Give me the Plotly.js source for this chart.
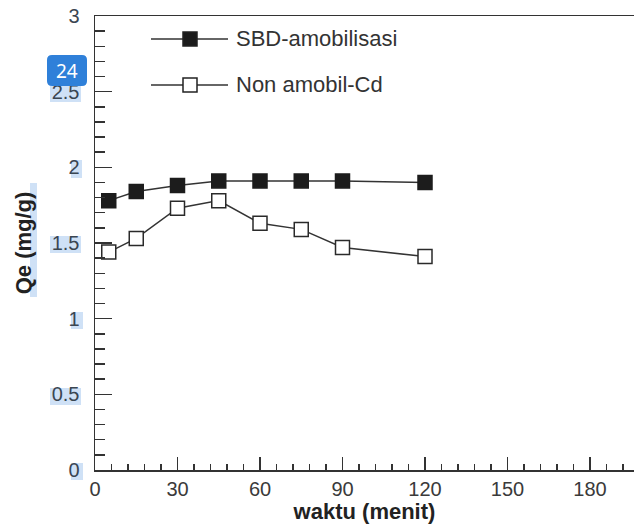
<!DOCTYPE html>
<html>
<head>
<meta charset="utf-8">
<script src="https://cdn.plot.ly/plotly-3.0.1.min.js"></script>
<style>html,body{margin:0;padding:0;background:#fff;}#chart{width:634px;height:529px;}</style>
</head>
<body>
<div id="chart"></div>
<script>
// ---- data ----
var waktu = [5, 15, 30, 45, 60, 75, 90, 120];
var sbdAmobilisasi = [1.78, 1.84, 1.88, 1.91, 1.91, 1.91, 1.91, 1.90];
var nonAmobilCd = [1.44, 1.53, 1.73, 1.78, 1.63, 1.59, 1.47, 1.41];
var seriesNames = ["SBD-amobilisasi", "Non amobil-Cd"];
var xTickVals = [0, 30, 60, 90, 120, 150, 180];
var yTickVals = [0, 0.5, 1, 1.5, 2, 2.5, 3];
var yTickText = ["0", "0.5", "1", "1.5", "2", "2.5", "3"];

// ---- layout helpers (pixel -> paper) ----
var L = 95, T = 16, W = 539, H = 454;
function px(x) { return (x - L) / W; }
function py(y) { return (T + H - y) / H; }
var FONT = "Liberation Sans, Arial, Helvetica, sans-serif";
var LINE = "#333333";

var traces = [
  {
    x: waktu, y: sbdAmobilisasi, name: seriesNames[0], type: "scatter", mode: "lines+markers",
    line: { color: LINE, width: 1.5 },
    marker: { symbol: "square", size: 14, color: "#1c1c1c", line: { color: "#1c1c1c", width: 1.5 } },
    showlegend: false, cliponaxis: false
  },
  {
    x: waktu, y: nonAmobilCd, name: seriesNames[1], type: "scatter", mode: "lines+markers",
    line: { color: LINE, width: 1.5 },
    marker: { symbol: "square", size: 14, color: "#ffffff", line: { color: "#2a2a2a", width: 1.5 } },
    showlegend: false, cliponaxis: false
  }
];

var shapes = [];
var annotations = [];

// selection highlights behind y labels / title
function hl(x0, y0, x1, y1) {
  shapes.push({ type: "rect", xref: "paper", yref: "paper", x0: px(x0), x1: px(x1), y0: py(y1), y1: py(y0),
    fillcolor: "#cfe1f6", line: { width: 0 }, layer: "below" });
}
hl(50, 86, 81, 102);
hl(71, 160, 82, 178);
hl(50, 236, 81, 253);
hl(71, 312, 83, 329);
hl(50, 388, 81, 405);
hl(71, 463, 83, 480);
hl(30, 183, 37, 297);

// legend (drawn manually)
var legendRows = [39, 85];
var legendFill = ["#1c1c1c", "#ffffff"];
for (var i = 0; i < seriesNames.length; i++) {
  var ry = legendRows[i];
  shapes.push({ type: "line", xref: "paper", yref: "paper", x0: px(151), x1: px(228), y0: py(ry), y1: py(ry),
    line: { color: LINE, width: 1.5 } });
  shapes.push({ type: "rect", xref: "paper", yref: "paper", x0: px(183), x1: px(197), y0: py(ry + 7), y1: py(ry - 7),
    fillcolor: legendFill[i], line: { color: "#222", width: 1.5 } });
  annotations.push({ xref: "paper", yref: "paper", x: px(234), y: py(ry), xanchor: "left", yanchor: "middle",
    text: seriesNames[i], showarrow: false, font: { family: FONT, size: 22, color: "#333" } });
}

// page badge
shapes.push({ type: "path", xref: "paper", yref: "paper",
  path: (function () {
    var x0 = 47, x1 = 87, y0 = 55, y1 = 86, r = 5;
    function P(x, y) { return px(x) + "," + py(y); }
    return "M" + P(x0 + r, y0) + " L" + P(x1 - r, y0) + " Q" + P(x1, y0) + " " + P(x1, y0 + r) +
      " L" + P(x1, y1 - r) + " Q" + P(x1, y1) + " " + P(x1 - r, y1) +
      " L" + P(x0 + r, y1) + " Q" + P(x0, y1) + " " + P(x0, y1 - r) +
      " L" + P(x0, y0 + r) + " Q" + P(x0, y0) + " " + P(x0 + r, y0) + " Z";
  })(),
  fillcolor: "#2f80d9", line: { width: 0 } });
annotations.push({ xref: "paper", yref: "paper", x: px(67), y: py(71), xanchor: "center", yanchor: "middle",
  text: "24", showarrow: false, font: { family: "Noto Sans, DejaVu Sans, sans-serif", size: 19, color: "#ffffff" } });

var layout = {
  width: 634, height: 529,
  margin: { l: L, r: 634 - L - W, t: T, b: 529 - T - H, pad: 0 },
  paper_bgcolor: "#ffffff", plot_bgcolor: "#ffffff",
  font: { family: FONT, color: "#333" },
  showlegend: false,
  xaxis: {
    range: [0, 196], tickvals: xTickVals, ticks: "inside", ticklen: 13, tickwidth: 1.5, tickcolor: LINE,
    showline: true, linecolor: LINE, linewidth: 1.5, mirror: true, showgrid: false, zeroline: false,
    tickfont: { family: FONT, size: 20, color: "#3a3a3a" },
    minor: { dtick: 6, ticks: "inside", ticklen: 6, tickwidth: 1.5, tickcolor: LINE, showgrid: false },
    title: { text: "<b>waktu (menit)</b>", font: { family: FONT, size: 22, color: "#222" }, standoff: 5 }
  },
  yaxis: {
    range: [0, 3], tickvals: yTickVals, ticktext: yTickText, ticks: "inside", ticklen: 17, tickwidth: 1.5, tickcolor: LINE,
    showline: true, linecolor: LINE, linewidth: 1.5, showgrid: false, zeroline: false,
    tickfont: { family: FONT, size: 20, color: "#3a4652" }, ticklabelstandoff: 10,
    minor: { dtick: 0.1, ticks: "inside", ticklen: 10, tickwidth: 1.5, tickcolor: LINE, showgrid: false },
    title: { text: "<b>Qe (mg/g)</b>", font: { family: FONT, size: 22, color: "#222" }, standoff: 14 }
  },
  shapes: shapes,
  annotations: annotations
};

Plotly.newPlot("chart", traces, layout, { displayModeBar: false, staticPlot: true });
</script>
</body>
</html>
